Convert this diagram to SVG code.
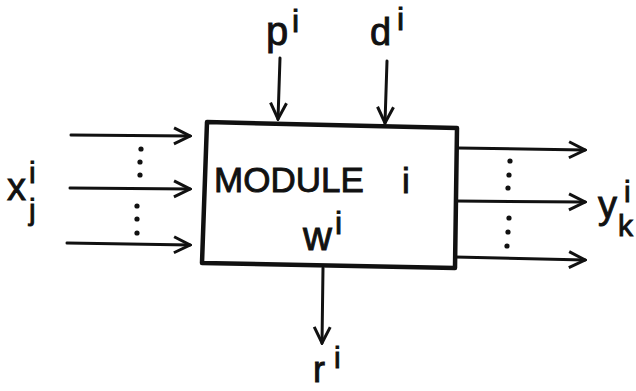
<svg xmlns="http://www.w3.org/2000/svg" width="636" height="391" viewBox="0 0 636 391">
<defs>
<style>
.ln{stroke:#111;stroke-width:3;fill:none;stroke-linecap:round}
.bx{stroke:#111;stroke-width:4.5;fill:#fff;stroke-linejoin:round}
.t{font-family:"Liberation Sans",Arial,sans-serif;fill:#111;stroke:#111;stroke-width:0.9}
.dot{fill:#111}
</style>
<marker id="ar" viewBox="0 0 20 20" refX="18" refY="10" markerWidth="20" markerHeight="20" markerUnits="userSpaceOnUse" orient="auto">
<polyline points="2,2 18,10 2,18" fill="none" stroke="#111" stroke-width="3" stroke-linejoin="miter"/>
</marker>
</defs>
<rect width="636" height="391" fill="#fff"/>
<g id="connectors">
<line class="ln" x1="71" y1="135" x2="190" y2="136" marker-end="url(#ar)"/>
<line class="ln" x1="70" y1="188" x2="190" y2="189" marker-end="url(#ar)"/>
<line class="ln" x1="67" y1="243" x2="190" y2="245" marker-end="url(#ar)"/>
<line class="ln" x1="458" y1="148" x2="585" y2="150" marker-end="url(#ar)"/>
<line class="ln" x1="456" y1="201" x2="585" y2="202" marker-end="url(#ar)"/>
<line class="ln" x1="455" y1="257" x2="585" y2="260" marker-end="url(#ar)"/>
<line class="ln" x1="280" y1="58" x2="278" y2="119" marker-end="url(#ar)"/>
<line class="ln" x1="387" y1="61" x2="385" y2="123" marker-end="url(#ar)"/>
<line class="ln" x1="323" y1="268" x2="322" y2="343" marker-end="url(#ar)"/>
</g>
<g id="module">
<polygon class="bx" points="207,122 457,128 455,268 202,263"/>
<text class="t" x="214" y="192" font-size="35">MODULE</text>
<text class="t" x="402" y="193" font-size="35">i</text>
<text class="t" x="303" y="250" font-size="40">w</text>
<text class="t" x="335" y="234" font-size="32">i</text>
</g>
<g id="dots">
<circle class="dot" cx="141" cy="149" r="2.6"/><circle class="dot" cx="140" cy="162" r="2.6"/><circle class="dot" cx="140" cy="175" r="2.6"/>
<circle class="dot" cx="137" cy="206" r="2.6"/><circle class="dot" cx="137" cy="219" r="2.6"/><circle class="dot" cx="137" cy="233" r="2.6"/>
<circle class="dot" cx="510" cy="161" r="2.6"/><circle class="dot" cx="509" cy="175" r="2.6"/><circle class="dot" cx="508" cy="188" r="2.6"/>
<circle class="dot" cx="509" cy="218" r="2.6"/><circle class="dot" cx="508" cy="232" r="2.6"/><circle class="dot" cx="507" cy="246" r="2.6"/>
</g>
<g id="label-x">
<text class="t" x="7" y="200" font-size="38">x</text>
<text class="t" x="29" y="183" font-size="30">i</text>
<text class="t" x="29" y="220" font-size="30">j</text>
</g>
<g id="label-y">
<text class="t" x="598" y="218" font-size="38">y</text>
<text class="t" x="624" y="202" font-size="30">i</text>
<text class="t" x="618" y="236" font-size="30">k</text>
</g>
<g id="label-p">
<text class="t" x="266" y="45" font-size="40">p</text>
<text class="t" x="292" y="32" font-size="32">i</text>
</g>
<g id="label-d">
<text class="t" x="370" y="45" font-size="38">d</text>
<text class="t" x="397" y="30" font-size="32">i</text>
</g>
<g id="label-r">
<text class="t" x="313" y="382" font-size="36">r</text>
<text class="t" x="334" y="368" font-size="30">i</text>
</g>
</svg>
